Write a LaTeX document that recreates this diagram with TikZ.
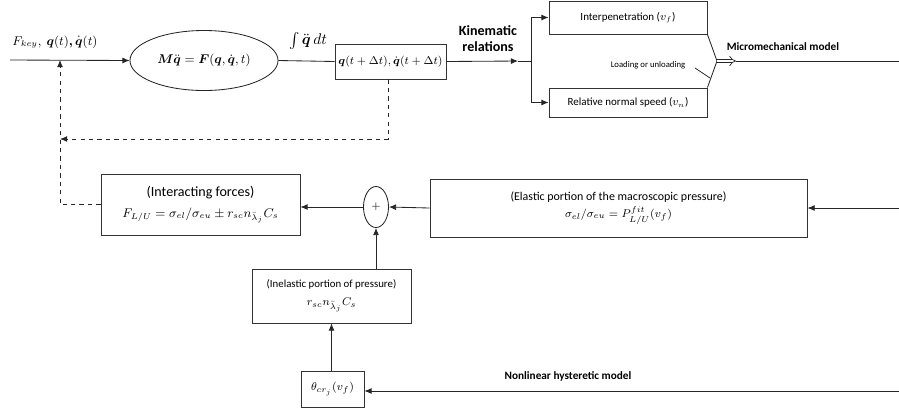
\documentclass[tikz,border=0pt]{standalone}
\usepackage{amsmath}
\usepackage{fontspec}
\setmainfont{Carlito}
\usetikzlibrary{arrows.meta,shapes.geometric}
\tikzset{blk/.style={rectangle,draw=black!80,line width=0.6pt,align=center,inner sep=0pt},eqn/.style={ellipse,draw=black!85,line width=0.6pt,inner sep=0pt},wire/.style={draw=black!85,line width=0.6pt},flow/.style={wire,-{Latex[length=1.8mm,width=1.5mm]}},fback/.style={flow,dashed},tag/.style={font=\fontsize{8}{9.5}\selectfont\bfseries,align=center}}
\newcommand{\fsz}[1]{\fontsize{#1}{#1}\selectfont}

\begin{document}
\begin{tikzpicture}[x=0.025cm,y=-0.025cm,font=\fontsize{8.5}{10}\selectfont]
\useasboundingbox (0,0) rectangle (899,410);
% dynamics and integration
\node[eqn,minimum width=3.7cm,minimum height=1.5cm] (eom) at (204,60.5) {\fsz{8.8}$\boldsymbol{M}\ddot{\boldsymbol q}=\boldsymbol{F}(\boldsymbol q,\dot{\boldsymbol q},t)$};
\node[blk,minimum width=2.775cm,minimum height=0.875cm] (state) at (390.5,61.5) {\fsz{8}$\boldsymbol q(t+\Delta t),\dot{\boldsymbol q}(t+\Delta t)$};
\coordinate (in) at (10,60);\coordinate (kmid) at (518,61);\coordinate (kj) at (531,61);
\node (inlbl) at (55,42) {\fsz{9.2}$F_{key},\ \boldsymbol{q}(t)\mathpunct{\boldsymbol{,}}\dot{\boldsymbol q}(t)$};
\node (intlbl) at (308,41) {\fsz{10.5}$\int\ddot{\boldsymbol q}\,dt$};
\draw[flow] (in) -- (eom.west);\draw[wire] (eom.east) -- (state.west);\draw[flow] (state.east) -- (kmid);\draw[wire] (kmid) -- (kj);
\node[tag,font=\fontsize{10}{11.5}\selectfont\bfseries] (kin) at (488,38.5) {Kinematic\\relations};
% kinematic quantities
\node[blk,minimum width=3.95cm,minimum height=0.825cm,font=\fsz{7.8}] (pen) at (628,17.5) {Interpenetration ($v_f$)};
\node[blk,minimum width=3.95cm,minimum height=0.725cm,font=\fsz{7.8}] (spd) at (628,102.5) {Relative normal speed ($v_n$)};
\draw[flow] (kj) |- (pen.west);\draw[flow] (kj) |- (spd.west);
\coordinate (conv) at (717,61);\coordinate (tip) at (736,61);\coordinate (out) at (899,61);
\draw[wire] (pen.south east) -- (conv);\draw[wire] (spd.north east) -- (conv);
\draw[draw=black!85,line width=0.5pt,double,double distance=2pt,-{Implies}] (conv) -- (tip);\draw[wire] (tip) -- (out);
\node[font=\fsz{6.2}] (load) at (648,65) {Loading or unloading};
\coordinate (tk1) at (695,68);\coordinate (tk2) at (710,78);\draw[wire,line width=0.5pt] (tk1) -- (tk2);
\node[tag] (micro) at (783,47) {Micromechanical model};
% contact forces
\node[blk,minimum width=4.975cm,minimum height=1.525cm] (force) at (200.5,204.5) {\fsz{10}(Interacting forces)\\[5pt]\fsz{9.2}$F_{L/U}=\sigma_{el}/\sigma_{eu}\pm r_{sc}n_{\bar{\lambda}_j}C_s$};
\node[eqn,minimum width=0.625cm,minimum height=1.025cm] (sum) at (376,207) {$+$};
\node[blk,minimum width=9.425cm,minimum height=1.45cm] (elas) at (618.5,208) {(Elastic portion of the macroscopic pressure)\\[2pt]$\sigma_{el}/\sigma_{eu}=P^{fit}_{L/U}(v_f)$};
\node[blk,minimum width=3.975cm,minimum height=1.35cm] (inel) at (331.5,296) {\fsz{7.7}(Inelastic portion of pressure)\\[3pt]\fsz{8}$r_{sc}n_{\bar{\lambda}_j}C_s$};
\node[blk,minimum width=1.575cm,minimum height=0.9cm] (theta) at (332.5,389) {$\theta_{cr_j}(v_f)$};
\coordinate (elin) at (899,208);\coordinate (nlin) at (899,391);
\draw[flow] (elin) -- (elas.east);\draw[flow] (elas.west) -- (sum.east);\draw[flow] (sum.west) -- (force.east |- sum.west);
\draw[flow] (inel.north -| sum.south) -- (sum.south);\draw[flow] (theta.north -| inel.south) -- (inel.south);\draw[flow] (nlin) -- (theta.east |- nlin);
\node[tag] (hyst) at (568,376) {Nonlinear hysteretic model};
% feedback
\coordinate (fb) at (60,139);\coordinate (fbin) at (60,60);
\draw[fback] (state.south -| 388,0) |- (fb);\draw[fback] (force.west) -| (fbin);
\end{tikzpicture}
\end{document}
